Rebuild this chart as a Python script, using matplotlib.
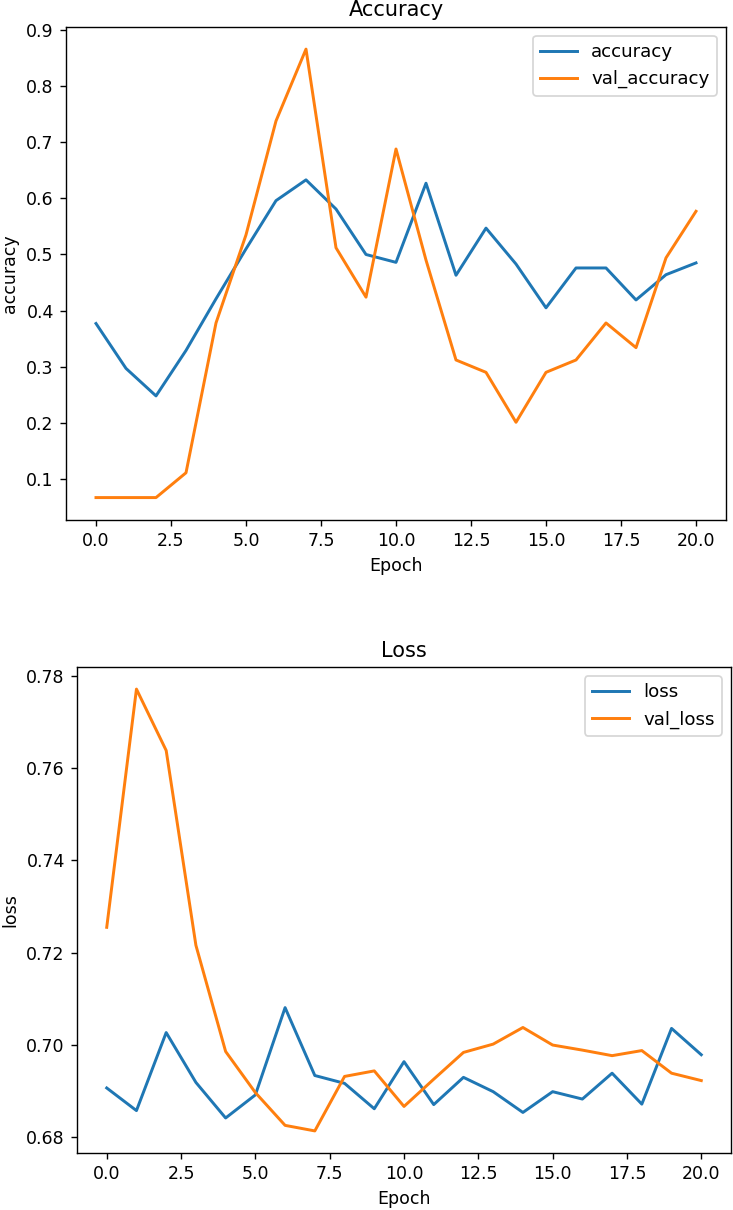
import numpy as np
import matplotlib.pyplot as plt

epochs = list(range(21))

accuracy = [0.377, 0.297, 0.248, 0.329, 0.421, 0.510, 0.596, 0.633, 0.581, 0.500, 0.486,
            0.627, 0.463, 0.547, 0.483, 0.405, 0.476, 0.476, 0.419, 0.464, 0.485]
val_accuracy = [0.0668, 0.0668, 0.0668, 0.111, 0.378, 0.535, 0.738, 0.866, 0.512, 0.424, 0.688,
                0.490, 0.312, 0.290, 0.201, 0.290, 0.312, 0.378, 0.334, 0.494, 0.577]

loss = [0.6907, 0.6858, 0.7027, 0.6919, 0.6842, 0.6892, 0.7081, 0.6934, 0.6917, 0.6862, 0.6964,
        0.6871, 0.6930, 0.6899, 0.6854, 0.6899, 0.6883, 0.6939, 0.6872, 0.7036, 0.6979]
val_loss = [0.7255, 0.7771, 0.7638, 0.7216, 0.6986, 0.6897, 0.6826, 0.6814, 0.6932, 0.6944, 0.6867,
            0.6926, 0.6984, 0.7002, 0.7038, 0.7000, 0.6989, 0.6977, 0.6988, 0.6939, 0.6923]

W, H = 733, 1210
plt.rcParams['lines.linewidth'] = 1.7
fig = plt.figure(figsize=(W/125, H/125), dpi=125)

ax1 = fig.add_axes([66/W, 1 - 520/H, (726 - 66)/W, (520 - 26.7)/H])
ax1.plot(epochs, accuracy, label='accuracy')
ax1.plot(epochs, val_accuracy, label='val_accuracy')
ax1.set_title('Accuracy')
ax1.set_xlabel('Epoch')
ax1.set_ylabel('accuracy')
ax1.legend(fontsize=10.5)

ax2 = fig.add_axes([77/W, 1 - 1153/H, (731 - 77)/W, (1153 - 667)/H])
ax2.plot(epochs, loss, label='loss')
ax2.plot(epochs, val_loss, label='val_loss')
ax2.set_title('Loss')
ax2.set_xlabel('Epoch')
ax2.set_ylabel('loss')
ax2.legend(fontsize=10.5)

fig.savefig('out.png', dpi=125)
